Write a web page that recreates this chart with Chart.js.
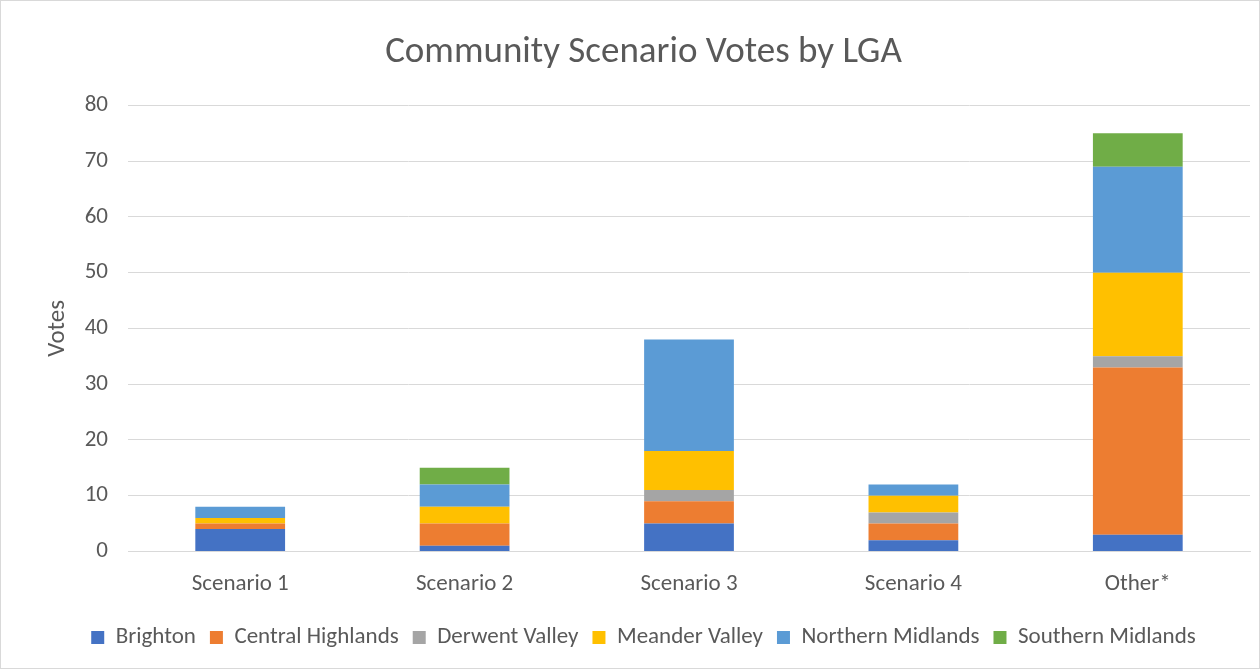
<!DOCTYPE html>
<html><head><meta charset="utf-8">
<script src="https://cdn.jsdelivr.net/npm/chart.js@4/dist/chart.umd.min.js"></script>
<style>
html,body{margin:0;padding:0;background:#fff;}
#wrap{position:absolute;left:0;top:0;width:1258px;height:667px;border:1px solid #d9d9d9;}
</style></head><body>
<div id="wrap"><canvas id="c" width="1258" height="667"></canvas></div>
<script>
const categories = ["Scenario 1","Scenario 2","Scenario 3","Scenario 4","Other*"];
const brighton = [4,1,5,2,3];
const centralHighlands = [1,4,4,3,30];
const derwentValley = [0,0,2,2,2];
const meanderValley = [1,3,7,3,15];
const northernMidlands = [2,4,20,2,19];
const southernMidlands = [0,3,0,0,6];
const yTicks = [0,10,20,30,40,50,60,70,80];

const font = "'Carlito','Calibri','Lato',sans-serif";
const grey = '#595959';
function ds(label, data, color){
  return {label, data, backgroundColor: color, borderWidth: 0, barPercentage: 0.4, categoryPercentage: 1.0};
}
new Chart(document.getElementById('c'), {
  type: 'bar',
  data: {
    labels: categories,
    datasets: [
      ds('Brighton', brighton, '#4472c4'),
      ds('Central Highlands', centralHighlands, '#ed7d31'),
      ds('Derwent Valley', derwentValley, '#a5a5a5'),
      ds('Meander Valley', meanderValley, '#ffc000'),
      ds('Northern Midlands', northernMidlands, '#5b9bd5'),
      ds('Southern Midlands', southernMidlands, '#70ad47')
    ]
  },
  options: {
    responsive: false,
    animation: false,
    layout: {padding: {left: 36, right: 9, top: 10, bottom: 9}},
    plugins: {
      title: {display: true, text: 'Community Scenario Votes by LGA', color: grey,
        font: {family: font, size: 37, weight: 'normal'}, padding: {top: 20, bottom: 30}},
      legend: {position: 'bottom', labels: {color: grey, font: {family: font, size: 23},
        boxWidth: 13, boxHeight: 13, padding: 14}},
      tooltip: {enabled: false}
    },
    scales: {
      x: {stacked: true, grid: {display: false}, border: {color: '#d9d9d9'},
        ticks: {color: grey, font: {family: font, size: 23}, padding: 11},
        afterFit: (s) => { s.height += 3; }},
      y: {stacked: true, min: 0, max: 80,
        afterBuildTicks: (s) => { s.ticks = yTicks.map(v => ({value: v})); },
        afterFit: (s) => { s.width = 91; },
        grid: {color: '#d9d9d9', drawTicks: false}, border: {display: false},
        ticks: {color: grey, font: {family: font, size: 23}, padding: 20},
        title: {display: true, text: 'Votes', color: grey, font: {family: font, size: 25}, padding: {top: 6, bottom: 12}}}
    }
  }
});
</script></body></html>
